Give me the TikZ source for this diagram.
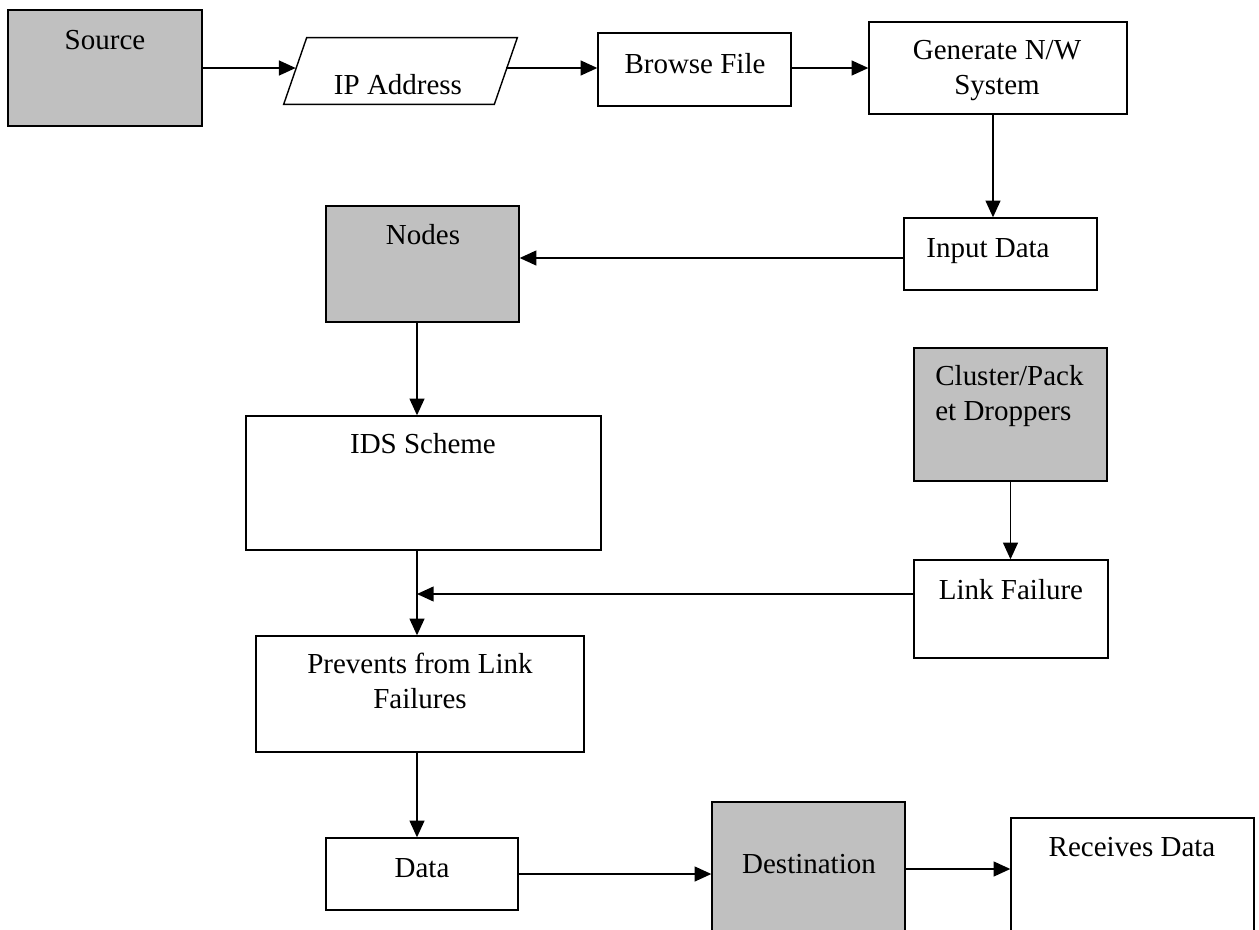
\documentclass[tikz,border=0pt]{standalone}
\usepackage{fontspec}
\setmainfont{Liberation Serif}
\usetikzlibrary{positioning, arrows.meta, calc}

\definecolor{boxgray}{RGB}{192,192,192}
\newcommand{\flowfont}{\fontsize{16.5}{19.4}\selectfont}

\tikzset{
  box/.style={draw, line width=0.8pt, inner sep=0pt},
  shaded/.style={box, fill=boxgray},
  txt/.style={anchor=base, inner sep=0pt, font=\flowfont, align=center},
  arr/.style={-{Triangle[length=9.5pt,width=8.5pt]}, line width=0.8pt},
}

\begin{document}
\begin{tikzpicture}[x=0.02cm, y=-0.02cm]

\useasboundingbox (0,0) rectangle (1259,930);

% boxes
\node[shaded, minimum width=3.88cm, minimum height=2.32cm] (source) at (105,68) {};
\node[inner sep=0pt, minimum width=4.2cm, minimum height=1.32cm] (ip) at (401,71) {};
\draw[line width=0.8pt] ($(ip.south west)+(-12,0)$) -- ($(ip.north west)+(11,0)$)
  -- ($(ip.north east)+(11,0)$) -- ($(ip.south east)+(-12,0)$) -- cycle;
\node[box, minimum width=3.86cm, minimum height=1.46cm] (browse) at (694.5,69.5) {};
\node[box, minimum width=5.16cm, minimum height=1.84cm] (gen) at (998,68) {};
\node[box, minimum width=3.86cm, minimum height=1.44cm] (input) at (1000.5,254) {};
\node[shaded, minimum width=3.86cm, minimum height=2.32cm] (nodes) at (422.5,264) {};
\node[box, minimum width=7.10cm, minimum height=2.68cm] (ids) at (423.5,483) {};
\node[shaded, minimum width=3.86cm, minimum height=2.66cm] (cluster) at (1010.5,414.5) {};
\node[box, minimum width=3.88cm, minimum height=1.96cm] (link) at (1011,609) {};
\node[box, minimum width=6.56cm, minimum height=2.32cm] (prevents) at (420,694) {};
\node[box, minimum width=3.84cm, minimum height=1.44cm] (data) at (422,874) {};
\node[shaded, minimum width=3.86cm, minimum height=2.68cm] (dest) at (808.5,869) {};
\node[box, minimum width=4.86cm, minimum height=2.48cm] (recv) at (1132.5,880) {};

% texts (two-line texts sit on their last baseline)
\node[txt] (source-t) at (105,49) {Source};
\node[txt] (ip-t) at (398,94) {IP Address};
\node[txt] (browse-t) at (695,73) {Browse File};
\node[txt] (gen-t) at (997,94) {Generate N/W\\System};
\node[txt] (input-t) at (988,257) {Input Data};
\node[txt] (nodes-t) at (423,244) {Nodes};
\node[txt] (ids-t) at (423,453) {IDS Scheme};
\node[txt, anchor=base west, align=left] (cluster-t) at (935,420) {Cluster/Pack\\et Droppers};
\node[txt] (link-t) at (1011,599) {Link Failure};
\node[txt] (prevents-t) at (420,708) {Prevents from Link\\Failures};
\node[txt] (data-t) at (422,877) {Data};
\node[txt] (dest-t) at (809,873) {Destination};
\node[txt] (recv-t) at (1132,856) {Receives Data};

% connectors
\coordinate (row) at (0,68);
\coordinate (drop) at (993,0);
\coordinate (mid) at (0,258);
\coordinate (spine) at (417,0);
\coordinate (lf) at (0,594);

\draw[arr] (source.east |- row) -- (ip.west |- row);
\draw[arr] (ip.east |- row) -- (browse.west |- row);
\draw[arr] (browse.east |- row) -- (gen.west |- row);
\draw[arr] (gen.south -| drop) -- (input.north -| drop);
\draw[arr] (input.west |- mid) -- (nodes.east |- mid);
\draw[arr] (nodes.south -| spine) -- (ids.north -| spine);
\draw[arr] (cluster.south) -- (cluster.south |- link.north);
\draw[arr] (link.west |- lf) -- (spine |- lf);
\draw[arr] (ids.south -| spine) -- (prevents.north -| spine);
\draw[arr] (prevents.south -| spine) -- (data.north -| spine);
\draw[arr] (data.east) -- (data.east -| dest.west);
\draw[arr] (dest.east) -- (dest.east -| recv.west);

\end{tikzpicture}
\end{document}
